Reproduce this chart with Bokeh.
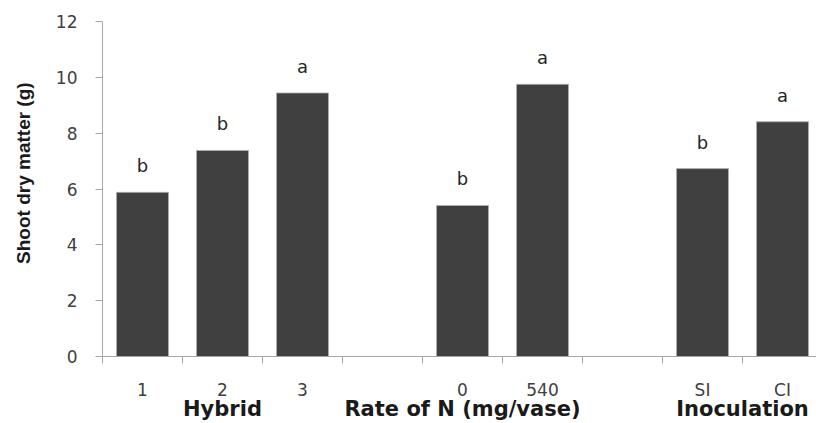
from bokeh.plotting import figure
from bokeh.models import ColumnDataSource, LabelSet, FixedTicker, Range1d, LinearAxis
from bokeh.core.properties import value
from bokeh.embed import file_html
from bokeh.resources import INLINE

# Category slots along the x axis (blank slots separate the factor groups)
tick_labels = ["1", "2", "3", "", "0", "540", "", "SI", "CI"]
shoot_dm = [5.88, 7.38, 9.44, None, 5.41, 9.75, None, 6.73, 8.41]
letters = ["b", "b", "a", "", "b", "a", "", "b", "a"]

# Factor groups and the slots that belong to each
group_names = ["Hybrid", "Rate of N (mg/vase)", "Inoculation"]
group_slots = [[0, 1, 2], [3, 4, 5], [7, 8]]

y_ticks = [0, 2, 4, 6, 8, 10, 12]
y_title = "Shoot dry matter (g)"

centres = [i + 0.5 for i in range(len(tick_labels))]
edges = list(range(len(tick_labels) + 1))

bar_x = [c for c, v in zip(centres, shoot_dm) if v is not None]
bar_top = [v for v in shoot_dm if v is not None]
bar_letter = [l for l, v in zip(letters, shoot_dm) if v is not None]
bars = ColumnDataSource(dict(x=bar_x, top=bar_top, letter=bar_letter))

grp_x = [sum(centres[i] for i in s) / len(s) for s in group_slots]

p = figure(width=816, height=423, title=None,
           x_range=Range1d(0, 8.925), y_range=Range1d(0, 12),
           output_backend="svg", toolbar_location=None,
           min_border_left=102, min_border_right=0,
           min_border_top=21, min_border_bottom=67)
p.outline_line_color = None
p.background_fill_color = "white"
p.border_fill_color = "white"
p.xgrid.grid_line_color = None
p.ygrid.grid_line_color = None

p.vbar(x="x", top="top", bottom=0, width=0.65, source=bars,
       fill_color="#404040", line_color="#b0b0b0", line_width=0.8)

axis_grey = "#a6a6a6"

# Category axis: labels at slot centres, tick marks at slot edges
xa = p.xaxis[0]
xa.ticker = FixedTicker(ticks=centres, minor_ticks=edges)
xa.major_label_overrides = {c: t for c, t in zip(centres, tick_labels)}
xa.axis_line_color = axis_grey
xa.major_tick_line_color = None
xa.major_tick_in = 0
xa.major_tick_out = 0
xa.minor_tick_line_color = axis_grey
xa.minor_tick_in = 0
xa.minor_tick_out = 7
xa.major_label_standoff = 16
xa.major_label_text_font = "DejaVu Sans"
xa.major_label_text_font_size = "17px"
xa.major_label_text_color = "#404040"

# Second row: factor group names
ga = LinearAxis(ticker=FixedTicker(ticks=grp_x, minor_ticks=[]),
                major_label_overrides={g: n for g, n in zip(grp_x, group_names)})
ga.axis_line_color = None
ga.major_tick_line_color = None
ga.minor_tick_line_color = None
ga.major_tick_in = 0
ga.major_tick_out = 0
ga.major_label_standoff = -6
ga.major_label_text_font = "DejaVu Sans"
ga.major_label_text_font_style = "bold"
ga.major_label_text_font_size = "21px"
ga.major_label_text_color = "#1a1a1a"
p.add_layout(ga, "below")

ya = p.yaxis[0]
ya.ticker = FixedTicker(ticks=y_ticks)
ya.axis_line_color = axis_grey
ya.major_tick_line_color = axis_grey
ya.major_tick_in = 0
ya.major_tick_out = 7
ya.minor_tick_line_color = None
ya.major_label_standoff = 18
ya.major_label_text_font = "DejaVu Sans"
ya.major_label_text_font_size = "17px"
ya.major_label_text_color = "#404040"
# leading no-break spaces lift the centred title a little along the axis
ya.axis_label = "\u00a0" * 6 + y_title
ya.axis_label_text_font = "Liberation Sans"
ya.axis_label_text_font_style = "bold"
ya.axis_label_text_font_size = "19px"
ya.axis_label_text_color = "#1a1a1a"
ya.axis_label_standoff = 19

# Significance letters above bars
p.add_layout(LabelSet(x="x", y="top", text="letter", source=bars,
                      y_offset=20, text_align="center", text_baseline="alphabetic",
                      text_font=value("DejaVu Sans"), text_font_size="18px",
                      text_color="#262626"))

open("out.html", "w").write(file_html(p, INLINE))
